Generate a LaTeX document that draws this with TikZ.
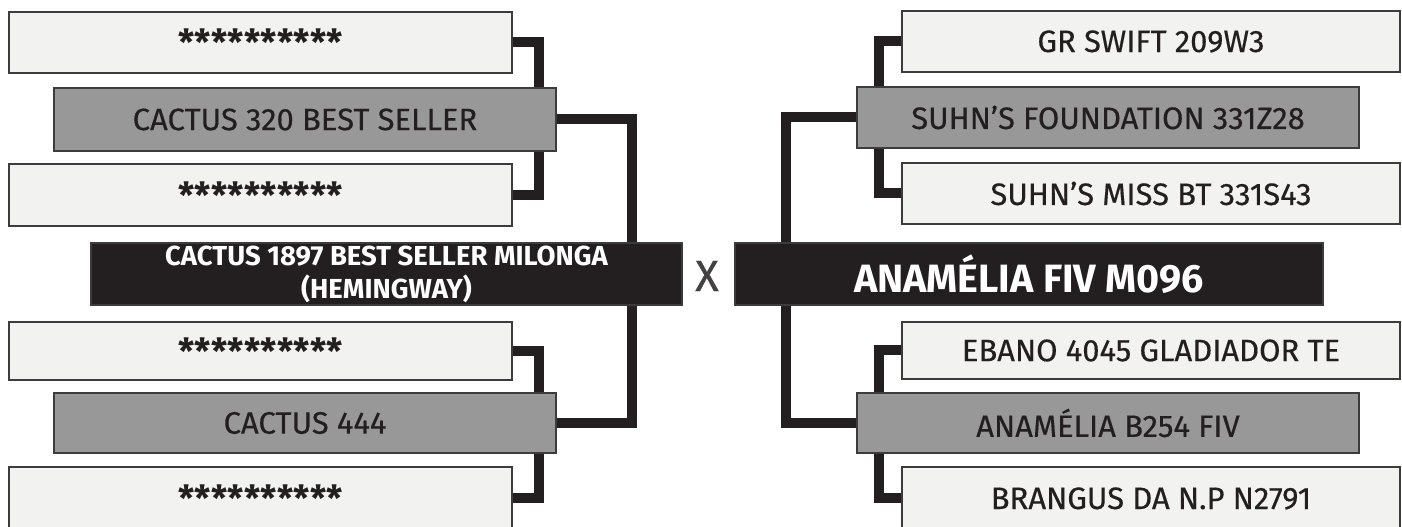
\documentclass[tikz,border=0pt]{standalone}
\usepackage{fontspec}
\setmainfont{Fira Sans}[UprightFeatures={FakeBold=0.4}]
\definecolor{ink}{HTML}{231F20}
\definecolor{palebox}{HTML}{F2F2F1}
\definecolor{midbox}{HTML}{989898}
\definecolor{edge}{HTML}{3C3C3C}
\begin{document}
\begin{tikzpicture}[x=1pt,y=1pt,
  lightbox/.style={draw=edge,line width=1.2pt,fill=palebox,minimum width=503pt,minimum height=61pt,inner sep=0pt,text=ink,font=\fontsize{31}{34}\selectfont},
  greybox/.style={lightbox,fill=midbox,minimum width=502pt},
  blackbox/.style={draw=edge,line width=1.2pt,fill=ink,inner sep=0pt,text=white,minimum height=62pt},
  link/.style={draw=ink,line width=10pt,line join=miter}]
  \useasboundingbox (0,0) rectangle (1402,527);
  \newcommand{\hidden}{\fontsize{36}{36}\selectfont\bfseries\raisebox{-1.5pt}{**********}}

  % sire side
  \node[lightbox] (s1) at (260.5,484.5) {\hidden};
  \node[greybox, minimum height=63pt] (s2) at (305,407.5) {CACTUS 320 BEST SELLER};
  \node[lightbox, minimum height=62pt] (s3) at (260.5,332) {\hidden};
  \node[blackbox, minimum width=591pt, align=center, font=\fontsize{27.5}{33}\selectfont\bfseries] (sire) at (386.5,253) {CACTUS 1897 BEST SELLER MILONGA\\(HEMINGWAY)};
  \node[lightbox, minimum height=58pt] (s4) at (260.5,176) {\hidden};
  \node[greybox, minimum height=60pt] (s5) at (305,104) {CACTUS 444};
  \node[lightbox, minimum height=63pt] (s6) at (260.5,28.5) {\hidden};

  \node[text=ink!85, font=\fontsize{44}{44}\selectfont] (cross) at (707,251) {X};

  % dam side
  \node[lightbox, minimum width=498pt] (d1) at (1151,485.5) {GR SWIFT 209W3};
  \node[greybox] (d2) at (1108,409.5) {SUHN’S FOUNDATION 331Z28};
  \node[lightbox, minimum width=498pt] (d3) at (1151,333.5) {SUHN’S MISS BT 331S43};
  \node[blackbox, minimum width=588pt, font=\fontsize{39.5}{42}\selectfont\bfseries] (dam) at (1029,253) {ANAMÉLIA FIV M096};
  \node[lightbox, minimum width=498pt, minimum height=57pt] (d4) at (1151,176.5) {EBANO 4045 GLADIADOR TE};
  \node[greybox, minimum height=60pt] (d5) at (1108,104) {ANAMÉLIA B254 FIV};
  \node[lightbox, minimum width=498pt, minimum height=63pt] (d6) at (1151,28.5) {BRANGUS DA N.P N2791};

  %links
  \coordinate (sa) at (538.5,0);
  \coordinate (sb) at (632,0);
  \coordinate (da) at (879,0);
  \coordinate (db) at (786,0);
  \draw[link] (s1.east) -| (sa |- s2.north);
  \draw[link] (sa |- s2.south) |- (s3.east);
  \draw[link] (s2.east) -| (sb |- sire.north);
  \draw[link] (sb |- sire.south) |- (s5.east);
  \draw[link] (s4.east) -| (sa |- s5.north);
  \draw[link] (sa |- s5.south) |- (s6.east);
  \draw[link] (d1.west) -| (da |- d2.north);
  \draw[link] (da |- d2.south) |- (d3.west);
  \draw[link] (d2.west) -| (db |- dam.north);
  \draw[link] (db |- dam.south) |- (d5.west);
  \draw[link] (d4.west) -| (da |- d5.north);
  \draw[link] (da |- d5.south) |- (d6.west);
\end{tikzpicture}
\end{document}
